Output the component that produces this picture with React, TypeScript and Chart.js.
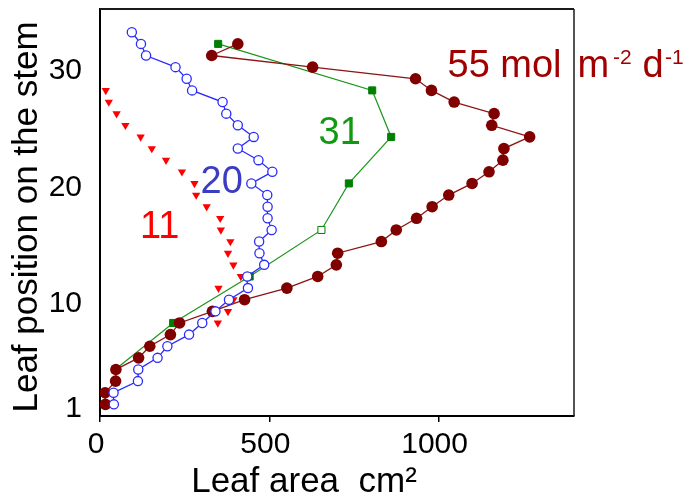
import { useEffect, useRef } from 'react';
import { Chart, registerables } from 'chart.js';

Chart.register(...registerables);

// Axis ticks
const xTickValues = [0, 500, 1000];
const yTickValues = [1, 10, 20, 30];

// Daily light integral 20 mol m-2 d-1 (open blue circles)
const leaf20 = [1, 2, 3, 4, 5, 6, 7, 8, 9, 10, 11, 12, 13, 14, 15, 16, 17, 18, 19, 20, 21, 22, 23, 24, 25, 26, 27, 28, 29, 30, 31, 32, 33];
const area20 = [41, 40, 112, 113, 170, 199, 263, 302, 341, 381, 437, 435, 485, 471, 470, 507, 495, 495, 494, 447, 509, 468, 407, 454, 407, 373, 362, 272, 256, 223, 136, 121, 94];

// 11 mol m-2 d-1 (red triangles, no line)
const leaf11 = [8, 9, 10, 11, 12, 13, 14, 15, 16, 17, 18, 19, 20, 21, 22, 23, 24, 25, 26, 27, 28];
const area11 = [348, 378, 394, 350, 416, 394, 378, 385, 357, 355, 315, 284, 279, 242, 195, 153, 120, 75, 49, 26, 17];

// 31 mol m-2 d-1 (green squares, every fourth leaf)
const leaf31 = [4, 8, 12, 16, 20, 24, 28, 32];
const area31 = [45, 216, 442, 654, 735, 860, 804, 349];

// 55 mol m-2 d-1 (dark red dots)
const leaf55 = [1, 2, 3, 4, 5, 6, 7, 8, 9, 10, 11, 12, 13, 14, 15, 16, 17, 18, 19, 20, 21, 22, 23, 24, 25, 26, 27, 28, 29, 30, 31, 32];
const area55 = [16, 15, 46, 47, 114, 147, 208, 235, 332, 427, 552, 643, 698, 702, 831, 875, 935, 981, 1030, 1099, 1149, 1190, 1193, 1269, 1157, 1164, 1046, 979, 932, 628, 330, 407];

const FONT = '"Liberation Sans", Arial, Helvetica, sans-serif';

const toPoints = (xs: number[], ys: number[]) => ys.map((y, i) => ({ x: xs[i], y }));

const labelsPlugin = {
  id: 'leafLabels',
  afterDraw(chart: any) {
    const { ctx, chartArea: a } = chart;
    ctx.save();

    // top and right frame of the plot
    ctx.strokeStyle = '#1a1a1a';
    ctx.lineWidth = 2;
    ctx.beginPath();
    ctx.moveTo(a.left, a.top);
    ctx.lineTo(a.right, a.top);
    ctx.stroke();
    ctx.lineWidth = 1.5;
    ctx.beginPath();
    ctx.moveTo(a.right, a.top);
    ctx.lineTo(a.right, a.bottom);
    ctx.stroke();

    ctx.textBaseline = 'alphabetic';
    ctx.textAlign = 'left';

    // series labels
    const big = `38px ${FONT}`;
    const sup = `21px ${FONT}`;
    ctx.font = big;
    ctx.fillStyle = '#a00000';
    ctx.fillText('55 mol', 447.5, 77);
    ctx.fillText('m', 577.5, 77);
    ctx.fillText('d', 642.5, 77);
    ctx.font = sup;
    ctx.fillText('-2', 613, 64);
    ctx.fillText('-1', 665, 64);

    ctx.font = big;
    ctx.fillStyle = '#119911';
    ctx.fillText('31', 318.5, 144);
    ctx.fillStyle = '#3b3bc4';
    ctx.fillText('20', 200.5, 193);
    ctx.fillStyle = '#ff0000';
    ctx.fillText('11', 140, 238);

    // axis titles
    ctx.fillStyle = '#000';
    ctx.font = `35px ${FONT}`;
    ctx.textAlign = 'center';
    ctx.fillText('Leaf area  cm\u00b2', 304, 492);
    ctx.translate(37, 217);
    ctx.rotate(-Math.PI / 2);
    ctx.fillText('Leaf position on the stem', 0, 0);

    ctx.restore();
  },
};

export default function App() {
  const canvasRef = useRef<HTMLCanvasElement | null>(null);

  useEffect(() => {
    const canvas = canvasRef.current;
    if (!canvas) return;
    const chart = new Chart(canvas, {
      type: 'scatter',
      data: {
        datasets: [
          {
            label: '20',
            data: toPoints(area20, leaf20),
            showLine: true,
            borderColor: '#2a2aff',
            borderWidth: 1.3,
            pointStyle: 'circle',
            pointRadius: 4.6,
            pointBorderWidth: 1.3,
            pointBorderColor: '#2a2aff',
            pointBackgroundColor: '#ffffff',
          },
          {
            label: '11',
            data: toPoints(area11, leaf11),
            showLine: false,
            pointStyle: 'triangle',
            rotation: 180,
            pointRadius: 4.8,
            pointBorderWidth: 0,
            pointBorderColor: '#ff0000',
            pointBackgroundColor: '#ff0000',
          },
          {
            label: '55',
            data: toPoints(area55, leaf55),
            showLine: true,
            borderColor: '#8b1414',
            borderWidth: 1.3,
            pointStyle: 'circle',
            pointRadius: 5.8,
            pointBorderWidth: 0,
            pointBackgroundColor: '#800000',
          },
          {
            label: '31',
            data: toPoints(area31, leaf31),
            showLine: true,
            borderColor: '#1a961a',
            borderWidth: 1.2,
            pointStyle: 'rect',
            pointRadius: 5,
            pointBorderWidth: 1,
            pointBorderColor: '#008000',
            pointBackgroundColor: (c: any) => (c.raw && c.raw.y === 16 ? '#ffffff' : '#008000'),
          },
        ],
      },
      options: {
        responsive: false,
        animation: false,
        events: [],
        layout: { padding: { left: 0, top: 9, right: 118, bottom: 0 } },
        plugins: {
          legend: { display: false },
          tooltip: { enabled: false },
        },
        scales: {
          x: {
            type: 'linear',
            min: 0,
            max: 1400,
            afterBuildTicks: (s: any) => {
              s.ticks = xTickValues.map((v) => ({ value: v }));
            },
            afterFit: (s: any) => {
              s.height = 83;
              s.paddingLeft = 0;
              s.paddingRight = 0;
            },
            grid: {
              display: true,
              drawOnChartArea: false,
              drawTicks: true,
              tickLength: 6,
              color: '#000',
              lineWidth: 1.5,
            },
            border: { display: true, color: '#000', width: 2 },
            ticks: {
              color: '#000',
              font: { family: FONT, size: 30 },
              padding: 5,
              labelOffset: -4,
              maxRotation: 0,
              autoSkip: false,
              callback: (v: any) => String(v),
            },
          },
          y: {
            type: 'linear',
            min: 0,
            max: 35,
            afterBuildTicks: (s: any) => {
              s.ticks = yTickValues.map((v) => ({ value: v }));
            },
            afterFit: (s: any) => {
              s.width = 100;
              s.paddingTop = 0;
              s.paddingBottom = 0;
            },
            grid: { display: false, drawTicks: false },
            border: { display: true, color: '#000', width: 2 },
            ticks: {
              color: '#000',
              font: { family: FONT, size: 30 },
              padding: 18,
              labelOffset: 4,
              autoSkip: false,
              callback: (v: any) => String(v),
            },
          },
        },
      },
      plugins: [labelsPlugin],
    } as any);
    return () => chart.destroy();
  }, []);

  return (
    <div style={{ position: 'fixed', left: 0, top: 0, width: 692, height: 499, background: '#fff' }}>
      <canvas ref={canvasRef} width={692} height={499} style={{ display: 'block', width: 692, height: 499 }} />
    </div>
  );
}
